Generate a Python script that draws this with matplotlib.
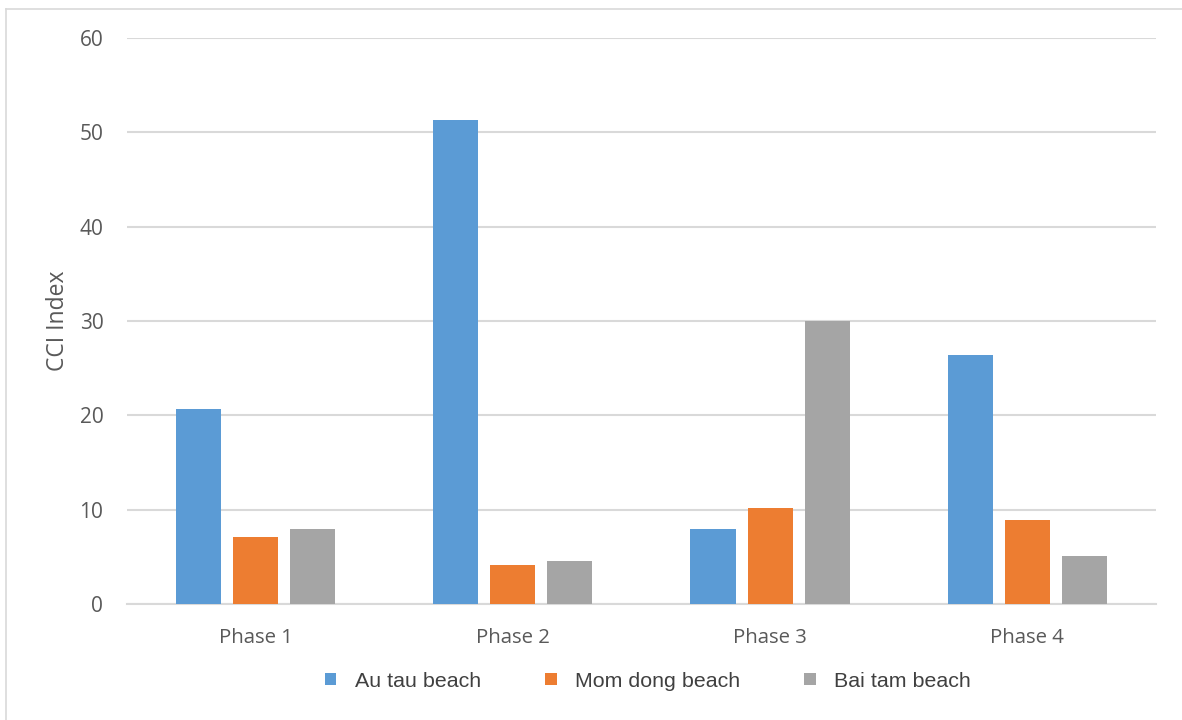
import numpy as np
import matplotlib.pyplot as plt
from matplotlib.patches import Patch
from matplotlib.lines import Line2D

# CCI index per sampling phase for each beach
phases = ["Phase 1", "Phase 2", "Phase 3", "Phase 4"]
au_tau = [20.7, 51.3, 7.9, 26.4]
mom_dong = [7.1, 4.1, 10.2, 8.9]
bai_tam = [7.9, 4.6, 30.0, 5.1]
series_names = ["Au tau beach", "Mom dong beach", "Bai tam beach"]
colors = ["#5B9BD5", "#ED7D31", "#A5A5A5"]

text_color = "#595959"
grid_color = "#D9D9D9"

fig = plt.figure(figsize=(11.82, 7.2), dpi=100)
ax = fig.add_axes([0.1074, 0.1611, 0.8706, 0.7861])

x = np.arange(len(phases))
width = 0.175
step = 0.222
for j, vals in enumerate([au_tau, mom_dong, bai_tam]):
    ax.bar(x + (j - 1) * step, vals, width, color=colors[j], zorder=3)

ax.set_xlim(-0.5, len(phases) - 0.5)
ax.set_ylim(0, 60)
ax.set_yticks(np.arange(0, 61, 10))
ax.set_xticks(x)
ax.set_xticklabels(phases, fontfamily="Open Sans", fontsize=14.7, color=text_color)
for lab in ax.get_yticklabels():
    lab.set_fontfamily("Open Sans")
    lab.set_fontsize(15)
    lab.set_color(text_color)
ax.tick_params(axis="both", length=0)
ax.tick_params(axis="y", pad=17)
ax.tick_params(axis="x", pad=17)

ax.grid(axis="y", color=grid_color, linewidth=1.5, zorder=0)
for side in ["top", "right", "left"]:
    ax.spines[side].set_visible(False)
ax.spines["bottom"].set_color(grid_color)
ax.spines["bottom"].set_linewidth(1.5)

ax.set_ylabel("CCI Index", fontfamily="Open Sans", fontsize=16.5, color=text_color, labelpad=7)

handles = [Patch(facecolor=c) for c in colors]
fig.legend(handles, series_names, loc="center", bbox_to_anchor=(0.548, 0.054), ncol=3,
           frameon=False, handlelength=0.55, handleheight=0.55, handletextpad=0.85,
           columnspacing=3.0, prop={"family": "Liberation Sans", "size": 15.4},
           labelcolor="#404040")

# light chart-area frame along the top and left
fig.add_artist(Line2D([6 / 1182, 1], [1 - 9 / 720, 1 - 9 / 720], color=grid_color, linewidth=1.2))
fig.add_artist(Line2D([6 / 1182, 6 / 1182], [0, 1 - 9 / 720], color=grid_color, linewidth=1.2))

fig.savefig("out.png", dpi=100)
